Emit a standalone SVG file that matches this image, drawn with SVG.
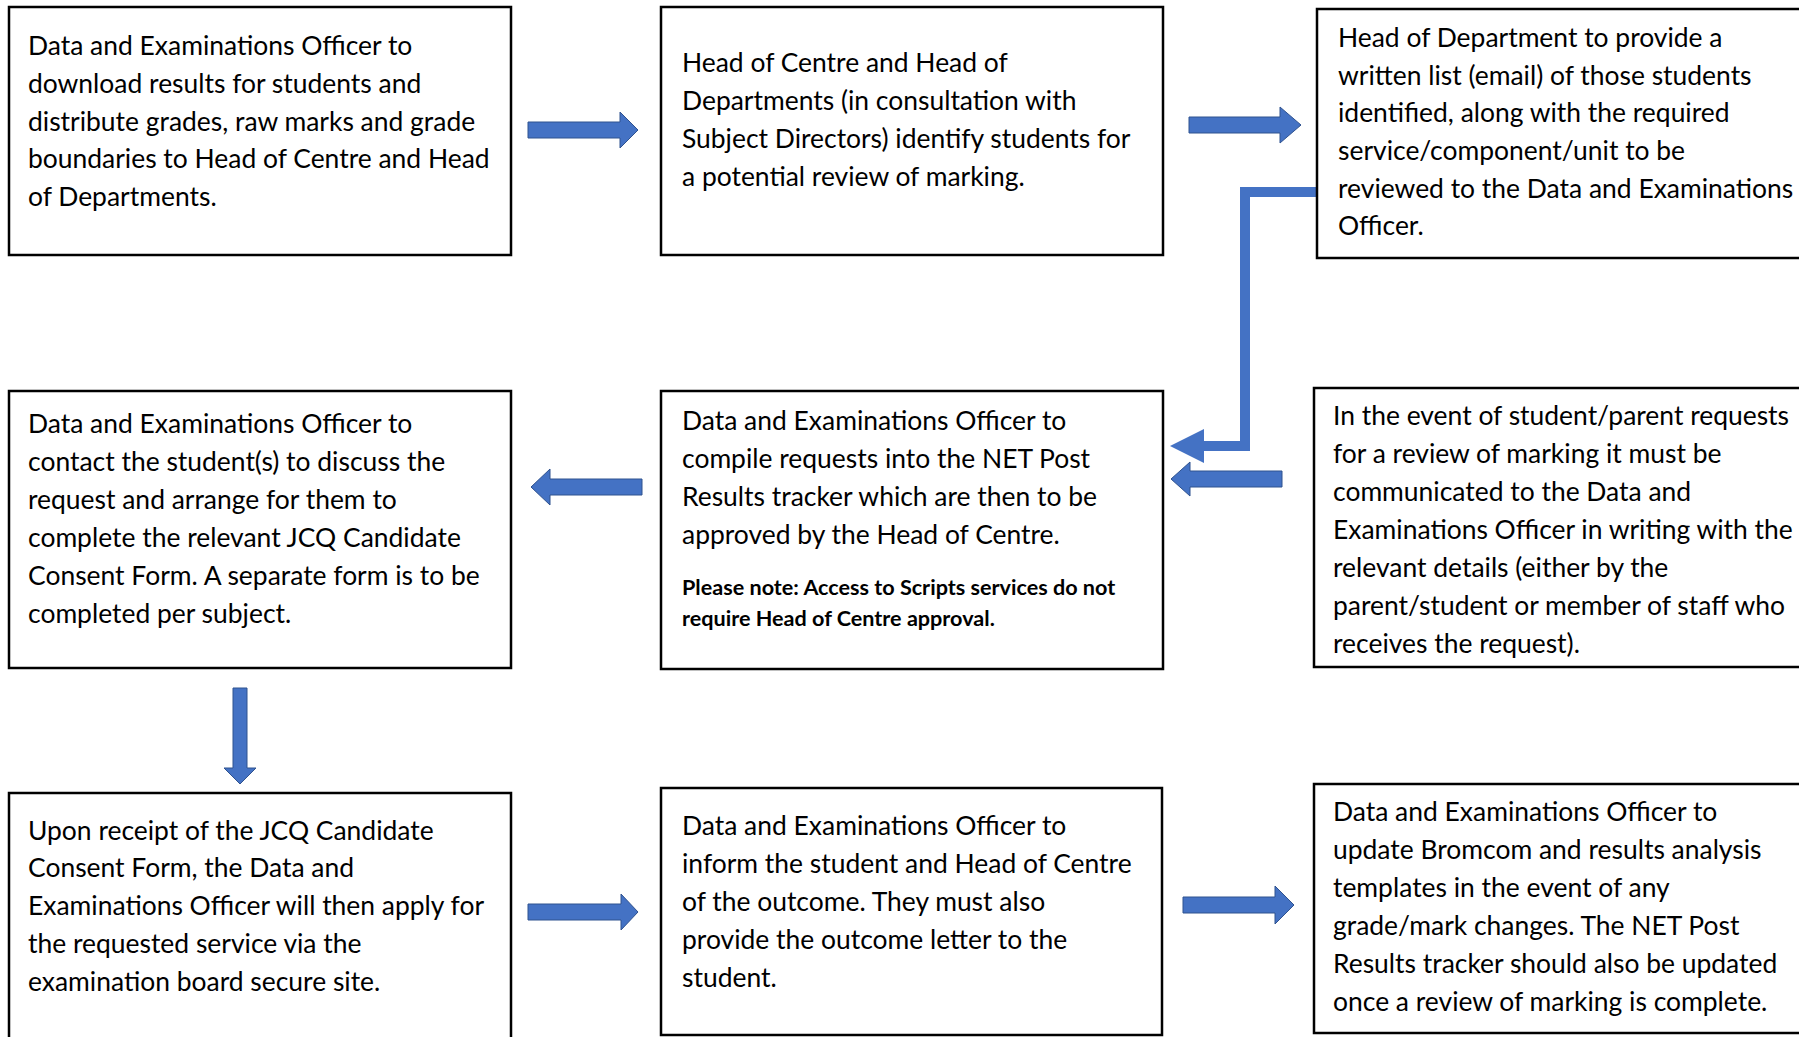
<svg xmlns="http://www.w3.org/2000/svg" width="1799" height="1037" viewBox="0 0 1799 1037">
<style>
.box{fill:#fff;stroke:#000;stroke-width:2.5}
.t{font-family:Lato,"Liberation Sans",sans-serif;font-size:26.45px;fill:#000}
.b{font-family:Lato,"Liberation Sans",sans-serif;font-size:21.6px;font-weight:bold;fill:#000}
.arr{fill:#4472C4;stroke:#2F528F;stroke-width:1}
.elbow{fill:none;stroke:#4472C4;stroke-width:10}
</style>
<rect width="1799" height="1037" fill="#fff"/>
<g id="connectors">
<polygon class="arr" points="528,122 620,122 620,112 638,130 620,148 620,138 528,138"/>
<polygon class="arr" points="1189,117 1280,117 1280,107 1301,125 1280,143 1280,133 1189,133"/>
<path class="elbow" d="M1317,192 H1245 V446 H1200"/>
<polygon fill="#4472C4" points="1204,429 1170,446 1204,463"/>
<polygon class="arr" points="1282,471 1190,471 1190,462 1171,479 1190,496 1190,487 1282,487"/>
<polygon class="arr" points="642,479 550,479 550,469 531,487 550,505 550,495 642,495"/>
<polygon class="arr" points="233,688 247,688 247,768 256,768 240,784 224,768 233,768"/>
<polygon class="arr" points="528,904 621,904 621,894 638,912 621,930 621,920 528,920"/>
<polygon class="arr" points="1183,897 1275,897 1275,886 1294,905 1275,924 1275,913 1183,913"/>
</g>
<g id="n1">
<rect class="box" x="9" y="7" width="502" height="248"/>
<text class="t" x="28"><tspan x="28" y="55">Data and Examinations Officer to</tspan><tspan x="28" y="93">download results for students and</tspan><tspan x="28" y="131">distribute grades, raw marks and grade</tspan><tspan x="28" y="168">boundaries to Head of Centre and Head</tspan><tspan x="28" y="206">of Departments.</tspan></text>
</g>
<g id="n2">
<rect class="box" x="661" y="7" width="502" height="248"/>
<text class="t"><tspan x="682" y="72">Head of Centre and Head of</tspan><tspan x="682" y="110">Departments (in consultation with</tspan><tspan x="682" y="148">Subject Directors) identify students for</tspan><tspan x="682" y="186">a potential review of marking.</tspan></text>
</g>
<g id="n3">
<rect class="box" x="1317" y="9" width="490" height="249"/>
<text class="t"><tspan x="1338" y="47">Head of Department to provide a</tspan><tspan x="1338" y="85">written list (email) of those students</tspan><tspan x="1338" y="122">identified, along with the required</tspan><tspan x="1338" y="160">service/component/unit to be</tspan><tspan x="1338" y="198">reviewed to the Data and Examinations</tspan><tspan x="1338" y="235">Officer.</tspan></text>
</g>
<g id="n4">
<rect class="box" x="9" y="391" width="502" height="277"/>
<text class="t"><tspan x="28" y="433">Data and Examinations Officer to</tspan><tspan x="28" y="471">contact the student(s) to discuss the</tspan><tspan x="28" y="509">request and arrange for them to</tspan><tspan x="28" y="547">complete the relevant JCQ Candidate</tspan><tspan x="28" y="585">Consent Form. A separate form is to be</tspan><tspan x="28" y="623">completed per subject.</tspan></text>
</g>
<g id="n5">
<rect class="box" x="661" y="391" width="502" height="278"/>
<text class="t"><tspan x="682" y="430">Data and Examinations Officer to</tspan><tspan x="682" y="468">compile requests into the NET Post</tspan><tspan x="682" y="506">Results tracker which are then to be</tspan><tspan x="682" y="544">approved by the Head of Centre.</tspan></text>
<text class="b"><tspan x="682" y="595">Please note: Access to Scripts services do not</tspan><tspan x="682" y="626">require Head of Centre approval.</tspan></text>
</g>
<g id="n6">
<rect class="box" x="1314" y="388" width="493" height="279"/>
<text class="t"><tspan x="1333" y="425">In the event of student/parent requests</tspan><tspan x="1333" y="463">for a review of marking it must be</tspan><tspan x="1333" y="501">communicated to the Data and</tspan><tspan x="1333" y="539">Examinations Officer in writing with the</tspan><tspan x="1333" y="577">relevant details (either by the</tspan><tspan x="1333" y="615">parent/student or member of staff who</tspan><tspan x="1333" y="653">receives the request).</tspan></text>
</g>
<g id="n7">
<rect class="box" x="9" y="793" width="502" height="260"/>
<text class="t"><tspan x="28" y="840">Upon receipt of the JCQ Candidate</tspan><tspan x="28" y="877">Consent Form, the Data and</tspan><tspan x="28" y="915">Examinations Officer will then apply for</tspan><tspan x="28" y="953">the requested service via the</tspan><tspan x="28" y="991">examination board secure site.</tspan></text>
</g>
<g id="n8">
<rect class="box" x="661" y="788" width="501" height="247"/>
<text class="t"><tspan x="682" y="835">Data and Examinations Officer to</tspan><tspan x="682" y="873">inform the student and Head of Centre</tspan><tspan x="682" y="911">of the outcome. They must also</tspan><tspan x="682" y="949">provide the outcome letter to the</tspan><tspan x="682" y="987">student.</tspan></text>
</g>
<g id="n9">
<rect class="box" x="1314" y="784" width="493" height="249"/>
<text class="t"><tspan x="1333" y="821">Data and Examinations Officer to</tspan><tspan x="1333" y="859">update Bromcom and results analysis</tspan><tspan x="1333" y="897">templates in the event of any</tspan><tspan x="1333" y="935">grade/mark changes. The NET Post</tspan><tspan x="1333" y="973">Results tracker should also be updated</tspan><tspan x="1333" y="1011">once a review of marking is complete.</tspan></text>
</g>
</svg>
